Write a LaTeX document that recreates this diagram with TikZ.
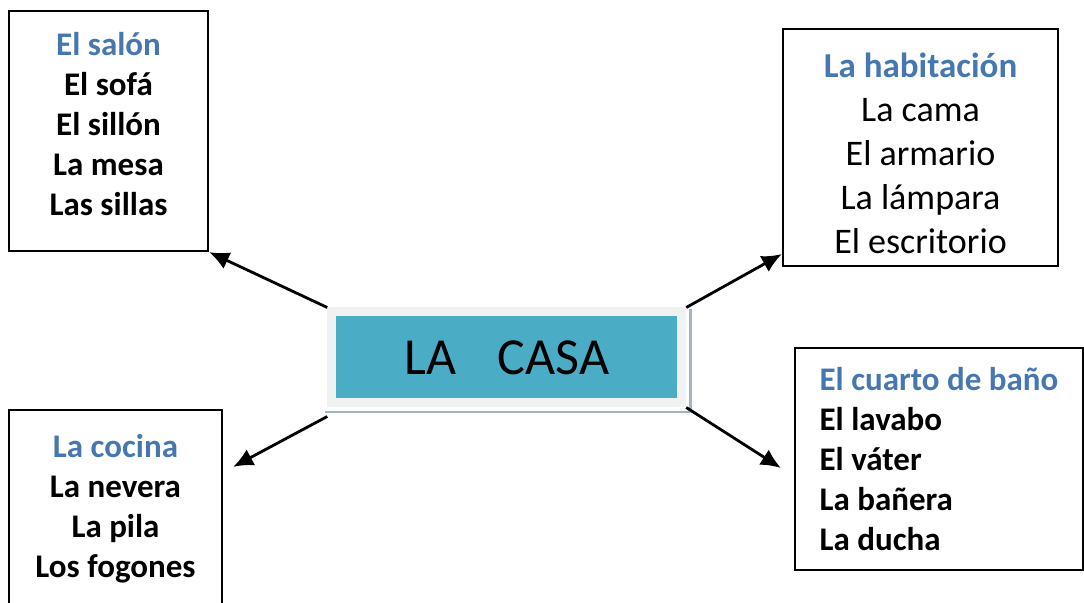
\documentclass[tikz,border=0pt]{standalone}
\usepackage{fontspec}
\setmainfont{Carlito}
\usetikzlibrary{arrows.meta,calc}

\definecolor{casateal}{HTML}{4BACC6}
\definecolor{headblue}{HTML}{4777B0}
\definecolor{framegray}{HTML}{F0F1F1}
\definecolor{shadegray}{HTML}{A3B6BE}

\tikzset{
  room/.style={draw, line width=1.1pt, inner sep=0pt, align=center,
    font=\fontsize{16.5}{20}\selectfont\bfseries},
  link/.style={-{Latex[length=10pt,width=9pt]}, line width=1.4pt},
  casabox/.style={fill=casateal, draw=framegray, line width=4.5pt,
    minimum width=175pt, minimum height=45.5pt, inner sep=0pt,
    font=\fontsize{26}{30}\selectfont}
}
\newcommand{\roomhead}[1]{\textcolor{headblue}{#1}}

\begin{document}
\begin{tikzpicture}[x=0.5pt,y=-0.5pt]
\clip (0,0) rectangle (1084,603);

% the four rooms
\node[room, minimum width=99.5pt, minimum height=120pt, text depth=7.5pt] (salon) at (108.5,131)
  {\roomhead{El salón}\\El sofá\\El sillón\\La mesa\\Las sillas};
\node[room, minimum width=137.5pt, minimum height=118.5pt,
  font=\fontsize{18}{22}\selectfont] (habitacion) at (920.5,147.5)
  {\rule{0pt}{18pt}{\fontsize{17.5}{22}\selectfont\bfseries\roomhead{La habitación}}\\La cama\\El armario\\La lámpara\\El escritorio};
\node[room, minimum width=106.5pt, minimum height=99pt] (cocina) at (115.5,509)
  {\roomhead{La cocina}\\La nevera\\La pila\\Los fogones};
\node[room, align=left, minimum width=144pt, minimum height=111pt] (bano) at (939,459)
  {\roomhead{El cuarto de baño}\\El lavabo\\El váter\\La bañera\\La ducha};

% the house in the middle
\node[casabox] (casa) at (506.75,357.5) {LA\hspace{0.8em}CASA};
\draw[shadegray, line width=1.4pt] ($(casa.north east)+(4.5,2)$) -- ($(casa.south east)+(4.5,4.5)$)
  -- ($(casa.south west)+(-2,4.5)$);

\coordinate (cocinatip) at ($(cocina.north east)+(10,58)$);
\coordinate (habtip) at ($(habitacion.south west)+(0,-13)$);
\coordinate (banotip) at ($(bano.west)+(-13,9)$);

\draw[link] (casa.north west) -- (salon.south east);
\draw[link] (casa.north east) -- (habtip);
\draw[link] ($(casa.south west)+(0,9)$) -- (cocinatip);
\draw[link] (casa.south east) -- (banotip);
\end{tikzpicture}
\end{document}
